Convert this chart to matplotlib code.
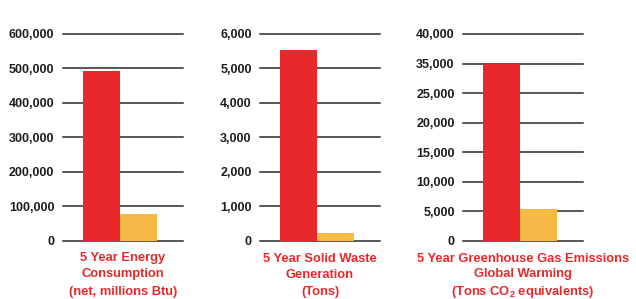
import numpy as np
import matplotlib
matplotlib.use("Agg")
import matplotlib.pyplot as plt
from matplotlib.ticker import FixedLocator, FixedFormatter

# Data
TITLES = [
    ["5 Year Energy", "Consumption", "(net, millions Btu)"],
    ["5 Year Solid Waste", "Generation", "(Tons)"],
    ["5 Year Greenhouse Gas Emissions", "Global Warming", "(Tons CO$_2$ equivalents)"],
]
RED_VALUES = [492000, 5530, 35000]
YELLOW_VALUES = [78000, 230, 5300]
TICKS = [
    [0, 100000, 200000, 300000, 400000, 500000, 600000],
    [0, 1000, 2000, 3000, 4000, 5000, 6000],
    [0, 5000, 10000, 15000, 20000, 25000, 35000, 40000],
]

RED = "#e8282a"
YELLOW = "#f5b946"
GRID = "#2a2a2a"

plt.rcParams["font.family"] = ["Liberation Sans", "DejaVu Sans"]
plt.rcParams["mathtext.fontset"] = "custom"
plt.rcParams["mathtext.rm"] = "Liberation Sans:bold"
plt.rcParams["mathtext.default"] = "rm"

fig = plt.figure(figsize=(6.36, 2.99), dpi=100)
W, H = 636, 299
lefts = [62.7, 260, 463]
ax_w = 120
ax_bottom_px = 240.7
ax_h_px = 240.7 - 34
bottom = (H - ax_bottom_px) / H
height = ax_h_px / H
baselines = [261.5, 277.5, 294.5]

for i in range(3):
    ax = fig.add_axes([lefts[i] / W, bottom, ax_w / W, height])
    ticks = TICKS[i]
    if i == 2:
        # the source axis skips 30,000: labels are evenly spaced
        src = ticks
        dst = [5000 * k for k in range(len(ticks))]
        ax.set_yscale("function", functions=(
            lambda y: np.interp(y, src, dst),
            lambda y: np.interp(y, dst, src)))
    ax.bar([0], [RED_VALUES[i]], width=1, align="edge", color=RED, zorder=3)
    ax.bar([1], [YELLOW_VALUES[i]], width=1, align="edge", color=YELLOW, zorder=3)
    for t in ticks:
        ax.axhline(t, color=GRID, lw=1.1, zorder=1, clip_on=False)
    ax.set_ylim(0, ticks[-1])
    ax.set_xlim(-0.55, 2.69)
    ax.yaxis.set_major_locator(FixedLocator(ticks))
    ax.yaxis.set_major_formatter(FixedFormatter([f"{t:,}" for t in ticks]))
    ax.yaxis.set_minor_locator(FixedLocator([]))
    ax.tick_params(axis="y", length=0, pad=6, labelsize=9, labelcolor="#1e1e1e")
    for lbl in ax.get_yticklabels():
        lbl.set_fontweight("bold")
    ax.set_xticks([])
    for s in ax.spines.values():
        s.set_visible(False)
    ax.patch.set_visible(False)
    for line, b in zip(TITLES[i], baselines):
        ax.text(0.5, -(b - ax_bottom_px) / ax_h_px, line, transform=ax.transAxes,
                ha="center", va="baseline", color=RED, fontsize=9.3,
                fontweight="bold")

fig.savefig("out.png", dpi=100)
